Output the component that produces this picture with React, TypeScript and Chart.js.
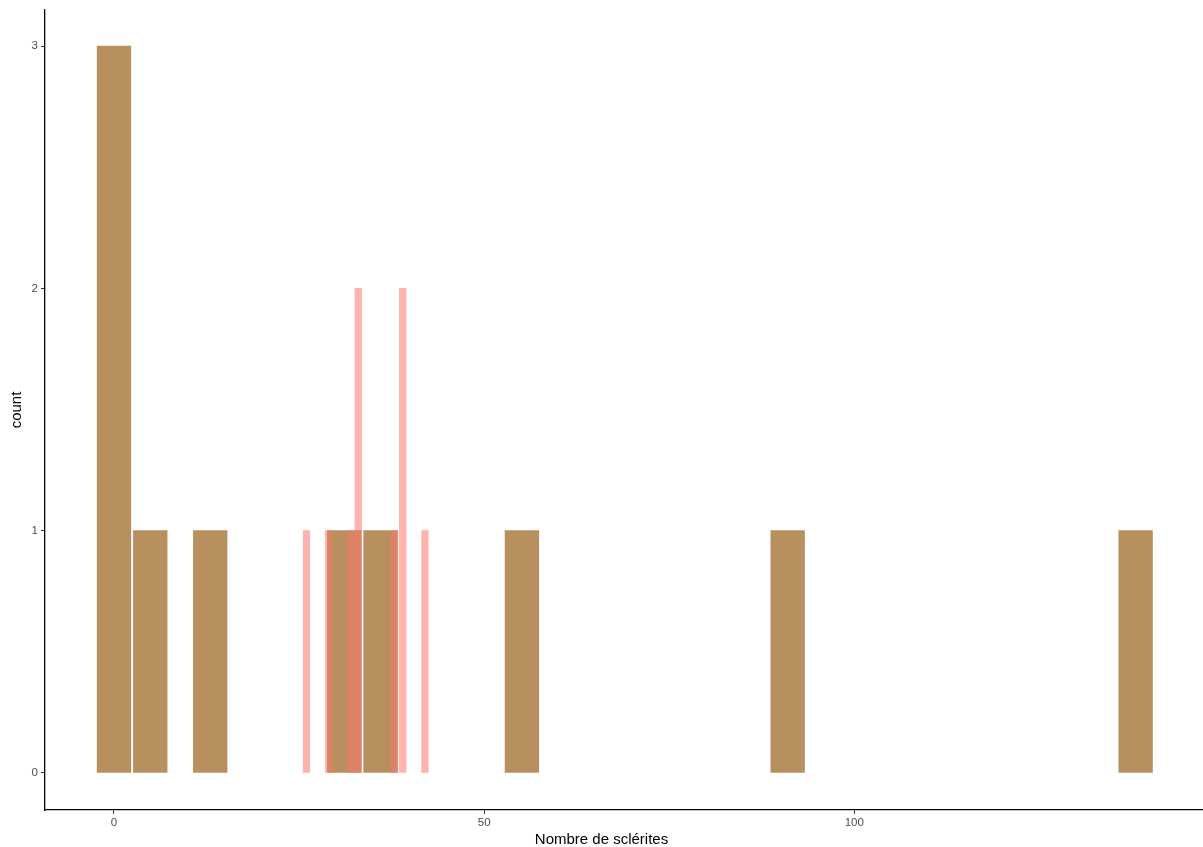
import React, { useEffect, useRef } from "react";
import { Chart, registerables } from "chart.js";

Chart.register(...registerables);

// Brown histogram (wide bins)
const brownCenters = [0, 4.9, 13.0, 31.1, 36.0, 55.1, 91.0, 138.0];
const brownCounts = [3, 1, 1, 1, 1, 1, 1, 1];
const brownBinWidth = 4.55;

// Salmon histogram (narrow bins)
const redCenters = [26.0, 29.0, 32.0, 33.0, 37.9, 39.0, 42.0];
const redCounts = [1, 1, 1, 2, 1, 2, 1];
const redBinWidth = 0.9;

const xTicks = [0, 50, 100];
const yTicks = [0, 1, 2, 3];
const xTitle = "Nombre de sclérites";
const yTitle = "count";

const FONT = "'Liberation Sans', Arial, Helvetica, sans-serif";

function widthPx(chart: any, units: number) {
  const x = chart.scales?.x;
  if (!x) return 10;
  return Math.abs(x.getPixelForValue(units) - x.getPixelForValue(0));
}

export default function App() {
  const ref = useRef<HTMLCanvasElement | null>(null);

  useEffect(() => {
    const canvas = ref.current;
    if (!canvas) return;
    const chart = new Chart(canvas, {
      type: "bar",
      data: {
        datasets: [
          {
            label: "a",
            data: brownCenters.map((c, i) => ({ x: c, y: brownCounts[i] })),
            backgroundColor: "rgb(184,144,96)",
            borderWidth: 0,
            grouped: false,
            order: 2,
            barThickness: (ctx: any) => widthPx(ctx.chart, brownBinWidth),
          } as any,
          {
            label: "b",
            data: redCenters.map((c, i) => ({ x: c, y: redCounts[i] })),
            backgroundColor: "rgba(248,118,109,0.55)",
            borderWidth: 0,
            grouped: false,
            order: 1,
            barThickness: (ctx: any) => widthPx(ctx.chart, redBinWidth),
          } as any,
        ],
      },
      options: {
        animation: false,
        responsive: false,
        maintainAspectRatio: false,
        layout: { padding: { top: 10, left: 0, right: 0, bottom: 0 } },
        plugins: {
          legend: { display: false },
          tooltip: { enabled: false },
          title: {
            display: true,
            position: "bottom",
            text: xTitle,
            color: "#000",
            font: { family: FONT, size: 15, weight: "normal", lineHeight: 1.0 },
            padding: { top: 0, bottom: 0 },
          },
        },
        scales: {
          x: {
            type: "linear",
            min: -9.32,
            max: 147.1,
            offset: false,
            grid: {
              display: true,
              offset: false,
              drawOnChartArea: false,
              drawTicks: true,
              tickLength: 4,
              color: "#333",
            },
            border: { display: true, color: "#000", width: 1.3 },
            ticks: {
              color: "#4d4d4d",
              font: { family: FONT, size: 11.5 },
              padding: 2,
              maxRotation: 0,
              autoSkip: false,
            },
            afterBuildTicks: (scale: any) => {
              scale.ticks = xTicks.map((v) => ({ value: v }));
            },
            afterFit: (scale: any) => {
              scale.height = 22;
            },
          },
          y: {
            type: "linear",
            min: -0.153,
            max: 3.149,
            grid: {
              display: true,
              offset: false,
              drawOnChartArea: false,
              drawTicks: true,
              tickLength: 4,
              color: "#333",
            },
            border: { display: true, color: "#000", width: 1.3 },
            ticks: {
              color: "#4d4d4d",
              font: { family: FONT, size: 11.5 },
              padding: 3,
              autoSkip: false,
            },
            title: {
              display: true,
              text: yTitle,
              color: "#000",
              font: { family: FONT, size: 15, lineHeight: 1.2 },
              padding: { top: 8, bottom: 0 },
            },
            afterBuildTicks: (scale: any) => {
              scale.ticks = yTicks.map((v) => ({ value: v }));
            },
            afterFit: (scale: any) => {
              scale.width = 45;
            },
          },
        },
      } as any,
    });
    return () => chart.destroy();
  }, []);

  return (
    <div
      style={{
        position: "fixed",
        left: 0,
        top: 0,
        width: 1203,
        height: 847,
        background: "#fff",
      }}
    >
      <canvas ref={ref} width={1203} height={847} style={{ display: "block" }} />
    </div>
  );
}
